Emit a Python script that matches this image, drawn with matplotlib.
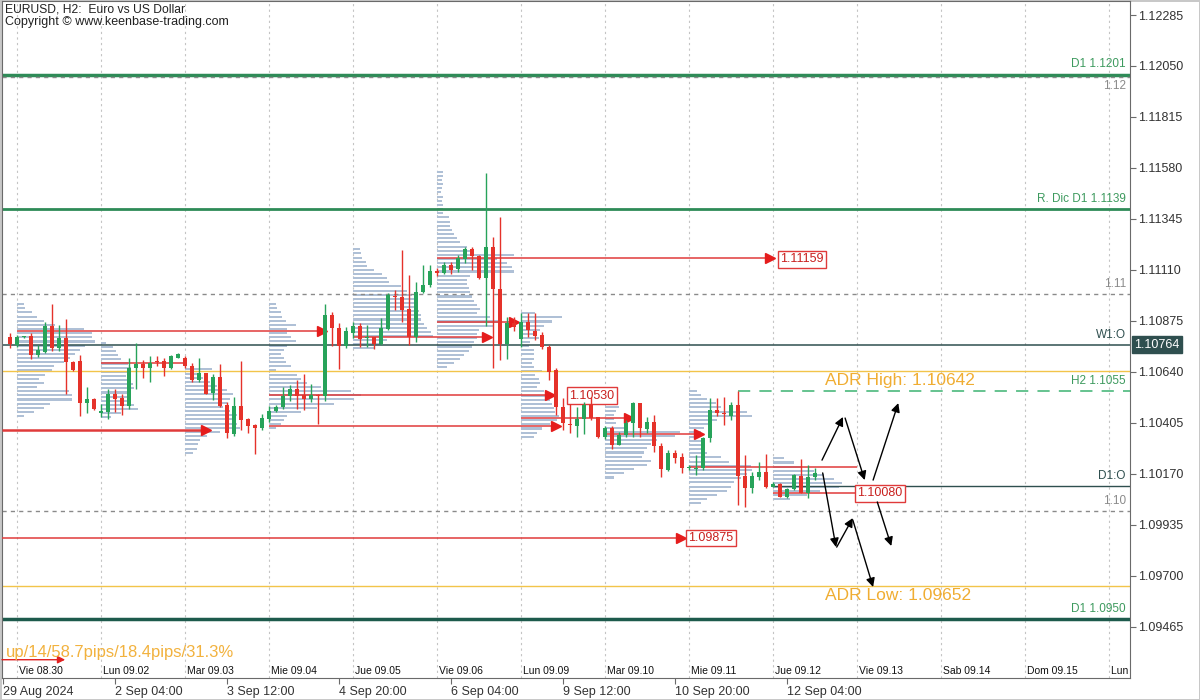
import numpy as np
import matplotlib.pyplot as plt
from matplotlib import transforms

plt.rcParams['font.family'] = ['Liberation Sans', 'DejaVu Sans']

# EURUSD H2 candles, bar 1 = Thu 29 Aug 22:00 (weekend bars skipped)
first_bar = 1
opens = [1.10799, 1.10763, 1.10799, 1.10805, 1.10717, 1.10733, 1.10851, 1.10751, 1.10794, 1.10686,
         1.10691, 1.10497, 1.10517, 1.10448, 1.10456, 1.10540, 1.10519, 1.10482, 1.10659, 1.10676,
         1.10660, 1.10688, 1.10691, 1.10660, 1.10706, 1.10702, 1.10666, 1.10602, 1.10633, 1.10543,
         1.10614, 1.10487, 1.10353, 1.10482, 1.10421, 1.10394, 1.10379, 1.10421, 1.10459, 1.10479,
         1.10528, 1.10563, 1.10533, 1.10516, 1.10533, 1.10528, 1.10902, 1.10840, 1.10759, 1.10818,
         1.10851, 1.10795, 1.10799, 1.10768, 1.10836, 1.10991, 1.10987, 1.10930, 1.10802, 1.11010,
         1.11041, 1.11105, 1.11097, 1.11133, 1.11113, 1.11159, 1.11207, 1.11174, 1.11074, 1.11214,
         1.11021, 1.10768, 1.10864, 1.10790, 1.10868, 1.10830, 1.10808, 1.10756, 1.10648, 1.10476,
         1.10399, 1.10390, 1.10421, 1.10487, 1.10430, 1.10338, 1.10379, 1.10305, 1.10349, 1.10402,
         1.10495, 1.10375, 1.10410, 1.10298, 1.10187, 1.10267, 1.10246, 1.10199, 1.10193, 1.10199,
         1.10333, 1.10464, 1.10452, 1.10436, 1.10487, 1.10160, 1.10103, 1.10157, 1.10180, 1.10110,
         1.10121, 1.10065, 1.10098, 1.10160, 1.10083, 1.10154]
highs = [1.10817, 1.10809, 1.10805, 1.10817, 1.10763, 1.10871, 1.10952, 1.10856, 1.10882, 1.10691,
         1.10717, 1.10568, 1.10519, 1.10494, 1.10559, 1.10559, 1.10540, 1.10702, 1.10774, 1.10694,
         1.10713, 1.10713, 1.10702, 1.10717, 1.10725, 1.10713, 1.10682, 1.10702, 1.10636, 1.10630,
         1.10676, 1.10502, 1.10525, 1.10691, 1.10425, 1.10399, 1.10445, 1.10482, 1.10487, 1.10568,
         1.10579, 1.10602, 1.10630, 1.10583, 1.10540, 1.10952, 1.10917, 1.10863, 1.10848, 1.10871,
         1.10864, 1.10856, 1.10802, 1.10887, 1.11005, 1.11017, 1.11202, 1.11087, 1.11056, 1.11133,
         1.11133, 1.11117, 1.11148, 1.11148, 1.11179, 1.11214, 1.11217, 1.11179, 1.11558, 1.11260,
         1.11356, 1.10894, 1.10894, 1.10910, 1.10910, 1.10910, 1.10825, 1.10764, 1.10656, 1.10518,
         1.10490, 1.10476, 1.10502, 1.10525, 1.10433, 1.10390, 1.10390, 1.10364, 1.10418, 1.10502,
         1.10498, 1.10433, 1.10441, 1.10313, 1.10279, 1.10279, 1.10267, 1.10210, 1.10256, 1.10341,
         1.10518, 1.10518, 1.10522, 1.10503, 1.10553, 1.10256, 1.10180, 1.10226, 1.10261, 1.10134,
         1.10126, 1.10103, 1.10169, 1.10237, 1.10210, 1.10195]
lows = [1.10748, 1.10756, 1.10796, 1.10697, 1.10709, 1.10728, 1.10737, 1.10737, 1.10540, 1.10645,
        1.10436, 1.10451, 1.10464, 1.10433, 1.10421, 1.10456, 1.10441, 1.10471, 1.10559, 1.10610,
        1.10594, 1.10666, 1.10620, 1.10655, 1.10703, 1.10660, 1.10594, 1.10594, 1.10537, 1.10510,
        1.10476, 1.10333, 1.10344, 1.10374, 1.10356, 1.10261, 1.10374, 1.10410, 1.10456, 1.10471,
        1.10507, 1.10471, 1.10464, 1.10502, 1.10399, 1.10507, 1.10759, 1.10651, 1.10748, 1.10795,
        1.10756, 1.10756, 1.10745, 1.10764, 1.10833, 1.10925, 1.10871, 1.10764, 1.10779, 1.11002,
        1.11033, 1.11082, 1.11090, 1.11091, 1.11102, 1.11140, 1.11110, 1.11067, 1.10850, 1.10656,
        1.10695, 1.10698, 1.10830, 1.10756, 1.10802, 1.10787, 1.10744, 1.10602, 1.10441, 1.10372,
        1.10356, 1.10341, 1.10353, 1.10418, 1.10333, 1.10329, 1.10282, 1.10302, 1.10341, 1.10341,
        1.10338, 1.10356, 1.10272, 1.10153, 1.10184, 1.10218, 1.10175, 1.10187, 1.10164, 1.10187,
        1.10318, 1.10436, 1.10395, 1.10418, 1.10026, 1.10019, 1.10083, 1.10141, 1.10103, 1.10107,
        1.10062, 1.10057, 1.10095, 1.10080, 1.10057, 1.10141]
closes = [1.10768, 1.10799, 1.10802, 1.10717, 1.10740, 1.10851, 1.10751, 1.10794, 1.10686, 1.10648,
          1.10497, 1.10517, 1.10467, 1.10459, 1.10536, 1.10513, 1.10482, 1.10659, 1.10676, 1.10660,
          1.10679, 1.10686, 1.10659, 1.10713, 1.10722, 1.10666, 1.10602, 1.10633, 1.10540, 1.10617,
          1.10482, 1.10356, 1.10482, 1.10417, 1.10390, 1.10382, 1.10425, 1.10459, 1.10479, 1.10528,
          1.10563, 1.10528, 1.10516, 1.10533, 1.10530, 1.10902, 1.10840, 1.10759, 1.10829, 1.10851,
          1.10790, 1.10798, 1.10768, 1.10841, 1.10994, 1.10987, 1.10925, 1.10799, 1.11010, 1.11041,
          1.11107, 1.11097, 1.11133, 1.11110, 1.11163, 1.11207, 1.11174, 1.11071, 1.11214, 1.11021,
          1.10768, 1.10864, 1.10848, 1.10871, 1.10833, 1.10805, 1.10756, 1.10641, 1.10476, 1.10402,
          1.10393, 1.10421, 1.10487, 1.10425, 1.10338, 1.10379, 1.10302, 1.10349, 1.10405, 1.10495,
          1.10379, 1.10410, 1.10298, 1.10190, 1.10267, 1.10241, 1.10195, 1.10202, 1.10197, 1.10333,
          1.10464, 1.10449, 1.10444, 1.10487, 1.10160, 1.10103, 1.10160, 1.10180, 1.10110, 1.10121,
          1.10065, 1.10098, 1.10164, 1.10083, 1.10157, 1.10175]

# daily volume profiles: start bar, top / bottom price, row lengths in bars (top -> bottom)
prof_starts = [2, 14, 26, 38, 50, 62, 74, 86, 98, 110]
prof_tops = [1.10952, 1.10774, 1.10651, 1.10952, 1.11205, 1.11563, 1.10910, 1.10498, 1.10553, 1.10241]
prof_bottoms = [1.10436, 1.10430, 1.10267, 1.10379, 1.10748, 1.10661, 1.10341, 1.10153, 1.10034, 1.10052]
prof_0830 = [1.0, 1.1, 2.1, 2.9, 3.9, 5.4, 9.6, 10.7, 10.7, 11.1, 9.7, 9.0, 8.3, 7.6, 6.7, 5.3, 5.0, 4.0,
             3.1, 3.9, 2.9, 7.4, 7.9, 7.9, 4.7, 3.9, 2.4, 1.0]
prof_0902 = [0.7, 1.7, 2.1, 2.4, 2.9, 3.9, 4.3, 3.9, 3.6, 3.9, 4.6, 4.7, 4.3, 3.9, 4.0, 4.7, 5.3, 2.9, 1.4]
prof_0903 = [3.9, 2.1, 2.6, 3.6, 4.6, 6.0, 6.9, 6.4, 6.0, 5.4, 6.4, 7.4, 6.9, 7.4, 7.9, 5.0, 3.1, 2.1,
             1.9, 1.7, 1.1]
prof_0904 = [1.0, 1.1, 1.7, 1.9, 2.4, 3.9, 2.6, 2.6, 3.1, 3.9, 2.6, 2.1, 1.7, 2.1, 2.4, 3.1, 1.0, 4.0,
             4.6, 5.4, 7.4, 11.7, 13.1, 12.1, 9.3, 6.9, 4.6, 2.6, 2.1, 1.7, 1.0]
prof_0905 = [1.0, 1.1, 1.3, 1.9, 2.0, 3.0, 4.1, 4.9, 5.1, 6.9, 7.7, 8.4, 8.7, 9.0, 9.1, 9.4, 9.7, 9.7,
             10.1, 10.6, 11.1, 11.4, 4.9, 4.0, 3.0]
prof_0906 = [0.9, 0.9, 0.7, 0.9, 0.7, 0.6, 0.9, 0.7, 0.9, 0.9, 0.9, 1.7, 1.9, 1.9, 2.1, 2.4, 2.9, 3.3,
             4.3, 5.3, 11.0, 8.6, 10.0, 10.7, 11.0, 4.7, 4.3, 4.3, 4.6, 4.7, 5.0, 5.3, 5.7, 6.1, 5.7,
             7.6, 9.0, 8.1, 6.0, 5.7, 5.7, 5.3, 5.0, 4.6, 3.9, 3.3, 2.4, 1.4]
prof_0909 = [2.0, 5.9, 4.4, 3.3, 2.7, 2.3, 2.6, 1.3, 1.1, 1.9, 1.9, 1.9, 1.6, 1.9, 3.0, 2.0, 2.6, 2.7,
             2.3, 3.3, 4.0, 4.1, 4.4, 4.7, 4.9, 5.4, 5.1, 4.1, 3.0, 2.3, 1.9]
prof_0910 = [1.7, 2.0, 1.6, 1.3, 1.3, 1.6, 2.7, 10.7, 10.0, 7.4, 6.6, 6.0, 5.6, 5.3, 6.6, 6.0, 4.1, 2.7, 1.3]
prof_0911 = [1.1, 1.7, 2.6, 3.9, 4.6, 8.3, 9.0, 4.0, 3.1, 2.1, 1.7, 1.4, 1.7, 1.9, 2.1, 2.6, 4.6, 5.7,
             8.9, 9.0, 8.3, 7.4, 6.4, 6.0, 5.4, 4.0, 2.6, 1.7]
prof_0912 = [1.6, 3.0, 4.1, 5.9, 7.3, 8.7, 9.9, 9.4, 6.7, 4.9, 2.4]
profiles = [prof_0830, prof_0902, prof_0903, prof_0904, prof_0905, prof_0906,
            prof_0909, prof_0910, prof_0911, prof_0912]

# red POC lines: price, from bar, to bar, arrow head at end
poc_prices = [1.10828, 1.10683, 1.10371, 1.10533, 1.10391, 1.10802, 1.11163, 1.10871, 1.10425, 1.10352,
              1.10203, 1.10080, 1.09875]
poc_from = [2, 14, -0.2, 38, 38, 50, 62, 62, 74, 86, 98, 110, -0.2]
poc_to = [45.6, 26.3, 29.0, 78.2, 79.0, 69.2, 109.6, 73.0, 89.4, 99.4, 122.0, 122.0, 96.8]
poc_arrow = [True, False, True, True, True, True, True, True, True, True, False, False, True]
poc_tags = {1.11159: 111.0, 1.10530: 80.9, 1.09875: 97.9, 1.10080: 122.0}

# key levels
d1_res = 1.1201
round_112 = 1.1200
dic_res = 1.1139
round_111 = 1.1100
w1_open = 1.10764
adr_high = 1.10642
h2_level = 1.1055
d1_open = 1.10114
round_110 = 1.1000
adr_low = 1.09652
d1_sup = 1.0950

# projected scenario arrows (bar, price) -> (bar, price)
scenario = [(117.0, 1.10233, 120.0, 1.10432), (120.3, 1.10427, 123.1, 1.10141),
            (124.3, 1.10141, 127.9, 1.10496), (124.9, 1.10040, 126.9, 1.09837),
            (117.1, 1.10174, 119.0, 1.09832), (119.1, 1.09832, 121.4, 1.09966),
            (121.4, 1.09957, 124.3, 1.09648)]

price_ticks = [1.12285, 1.12050, 1.11815, 1.11580, 1.11345, 1.11110, 1.10875, 1.10640, 1.10405,
               1.10170, 1.09935, 1.09700, 1.09465]
date_ticks = [0, 16, 32, 48, 64, 80, 96, 112]
date_labels = ['29 Aug 2024', '2 Sep 04:00', '3 Sep 12:00', '4 Sep 20:00', '6 Sep 04:00',
               '9 Sep 12:00', '10 Sep 20:00', '12 Sep 04:00']
day_bars = [2, 14, 26, 38, 50, 62, 74, 86, 98, 110, 122, 134, 146, 158]
day_labels = ['Vie 08.30', 'Lun 09.02', 'Mar 09.03', 'Mie 09.04', 'Jue 09.05', 'Vie 09.06', 'Lun 09.09',
              'Mar 09.10', 'Mie 09.11', 'Jue 09.12', 'Vie 09.13', 'Sab 09.14', 'Dom 09.15', 'Lun 09.16']

bull = '#27a35a'
bear = '#e5322a'
green_txt = '#3d9a5e'
dark = '#2f4f4f'
gold = '#f0ad32'

fig = plt.figure(figsize=(12, 7), dpi=100)
fig.patch.set_edgecolor('#c8c8c8')
fig.patch.set_linewidth(2)
ax = fig.add_axes([2 / 1200, 22 / 700, 1128 / 1200, 677 / 700])
ax.set_xlim(-0.143, 161.0)
ax.set_ylim(1.092286, 1.123496)
bt = transforms.blended_transform_factory(ax.transData, ax.transAxes)
rt = transforms.blended_transform_factory(ax.transAxes, ax.transData)

# day separators
for d in day_bars:
    ax.axvline(d, color='#c4c4c4', lw=0.8, ls=(0, (2, 3)), zorder=0)
for d, lab in zip(day_bars, day_labels):
    ax.text(d + 0.3, 0.011, lab, transform=bt, fontsize=7.5, color='#111111', va='center',
            clip_on=True)

# volume profiles
for start, top, bot, lens in zip(prof_starts, prof_tops, prof_bottoms, profiles):
    ys = np.linspace(top, bot, len(lens))
    step = (top - bot) / (len(lens) - 1)
    ax.barh(ys, lens, left=start, height=step * 0.5, color='#afc0d6', lw=0, zorder=1)

# level lines
ax.axhline(d1_res, color='#2e8b57', lw=2.5, zorder=2)
ax.axhline(dic_res, color='#2e8b57', lw=2, zorder=2)
ax.axhline(d1_sup, color='#1d5a4c', lw=2.5, zorder=2)
for r in [round_112, round_111, round_110]:
    ax.axhline(r, color='#8a8a8a', lw=1, ls=(0, (3, 3)), zorder=2)
ax.axhline(w1_open, color=dark, lw=1.1, zorder=2)
ax.axhline(adr_high, color='#f2c44a', lw=1, zorder=2)
ax.axhline(adr_low, color='#f2c44a', lw=1, zorder=2)
ax.plot([105, 161], [h2_level, h2_level], color='#3cb371', lw=1.1, ls=(0, (8, 6)), zorder=2)
ax.plot([110, 161], [d1_open, d1_open], color=dark, lw=1, zorder=2)

level_texts = [('D1 1.1201', d1_res, green_txt), ('R. Dic D1 1.1139', dic_res, green_txt),
               ('1.11', round_111, '#8a8a8a'), ('W1:O', w1_open, dark), ('H2 1.1055', h2_level, green_txt),
               ('D1:O', d1_open, dark), ('1.10', round_110, '#8a8a8a'), ('D1 1.0950', d1_sup, green_txt)]
for txt, p, c in level_texts:
    ax.annotate(txt, xy=(1, p), xycoords=rt, xytext=(-3, 3), textcoords='offset points',
                ha='right', va='bottom', fontsize=8.5, color=c, zorder=5)
# the 1.12 round number tag sits just under its line to stay clear of the D1 tag
ax.annotate('1.12', xy=(1, round_112), xycoords=rt, xytext=(-3, -2), textcoords='offset points',
            ha='right', va='top', fontsize=8.5, color='#8a8a8a', zorder=5)

# POC lines
for p, a, b, arr in zip(poc_prices, poc_from, poc_to, poc_arrow):
    lw = 1.8 if p == 1.10371 else 1.1
    ax.plot([a, b], [p, p], color='#e03a3a', lw=lw, zorder=3, solid_capstyle='butt')
    if arr:
        ax.plot(b, p, marker='>', ms=7, color='#e51c1c', zorder=4, clip_on=False)
for p, x in poc_tags.items():
    ax.text(x, p, f'{p:.5f}', fontsize=9, color='#c8201e', ha='left', va='center', zorder=6,
            bbox=dict(boxstyle='square,pad=0.18', fc='white', ec='#e03a3a', lw=1))

# candles
bars = np.arange(first_bar, first_bar + len(opens))
o = np.array(opens)
c = np.array(closes)
cols = [bull if cc >= oo else bear for oo, cc in zip(o, c)]
ax.vlines(bars, lows, highs, colors=cols, lw=1, zorder=7)
body = np.maximum(np.abs(c - o), 0.00004)
ax.bar(bars, body, bottom=np.minimum(o, c), width=0.58, color=cols, lw=0, zorder=8)

# scenario arrows
for x0, y0, x1, y1 in scenario:
    ax.annotate('', xy=(x1, y1), xytext=(x0, y0),
                arrowprops=dict(arrowstyle='-|>', color='black', lw=1, mutation_scale=13,
                                shrinkA=0, shrinkB=0), zorder=9)

# ADR texts
ax.annotate(f'ADR High: {adr_high:.5f}', xy=(117.4, adr_high), xytext=(0, -1), textcoords='offset points',
            fontsize=12.5, color=gold, va='top', ha='left', zorder=6)
ax.annotate(f'ADR Low: {adr_low:.5f}', xy=(117.4, adr_low), xytext=(0, -1), textcoords='offset points',
            fontsize=12.5, color=gold, va='top', ha='left', zorder=6)

# info texts
fig.text(5 / 1200, 1 - 9 / 700, 'EURUSD, H2:  Euro vs US Dollar', fontsize=8.7, color='#222222', va='center')
fig.text(5 / 1200, 1 - 22 / 700, 'Copyright \u00a9 www.keenbase-trading.com', fontsize=9, color='#222222',
         va='center')
ax.text(0.003, 0.038, 'up/14/58.7pips/18.4pips/31.3%', transform=ax.transAxes, fontsize=12,
        color='#f2b23e', va='center', ha='left', zorder=6)
ax.annotate('', xy=(0.056, 0.027), xytext=(0.0, 0.027), xycoords='axes fraction',
            arrowprops=dict(arrowstyle='-|>', color='#e02020', lw=1, mutation_scale=11, shrinkA=0, shrinkB=0))

# axes styling
for s in ax.spines.values():
    s.set_color('#6a6a6a')
ax.yaxis.tick_right()
ax.set_yticks(price_ticks)
ax.set_yticklabels([f'{t:.5f}' for t in price_ticks])
ax.tick_params(axis='y', direction='out', length=4, labelsize=9, colors='#6a6a6a', labelcolor='#333333', pad=2)
ax.set_xticks(date_ticks)
ax.set_xticklabels(date_labels, ha='left')
ax.tick_params(axis='x', direction='out', length=4, labelsize=9, colors='#6a6a6a', labelcolor='#333333', pad=2)

ax.annotate(f'{w1_open:.5f}', xy=(1, w1_open), xycoords=rt, xytext=(3, 0), textcoords='offset points',
            ha='left', va='center', fontsize=9, color='white', annotation_clip=False,
            bbox=dict(boxstyle='square,pad=0.2', fc=dark, ec=dark))

fig.savefig('out.png', dpi=100, edgecolor=fig.get_edgecolor())
